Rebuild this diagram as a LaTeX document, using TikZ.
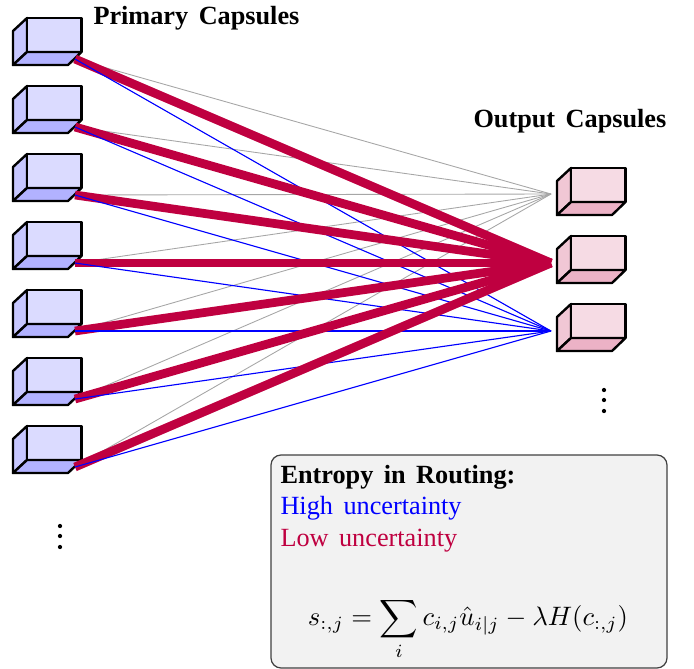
\documentclass[tikz,border=0pt]{standalone}
\usepackage{fontspec}
\usepackage{amsmath}
\setmainfont[WordSpace=1.6]{Liberation Serif}
\definecolor{lowred}{HTML}{BF0040}
\tikzset{
  face/.style={draw=black,line width=0.95pt,line join=round},
  title/.style={font=\fontsize{10.5}{12}\selectfont\bfseries,inner sep=0pt,anchor=base west},
  body/.style={font=\fontsize{10.5}{12}\selectfont,inner sep=0pt,anchor=base west},
  high/.style={blue,line width=0.45pt},
  none/.style={black!35,line width=0.35pt},
  low/.style={lowred,line width=3.5pt},
  dotmark/.style={circle,fill=black,inner sep=0pt,minimum size=1.7pt}
}
\newcommand{\capsule}[5]{% x, y(top of back face), front, side, bottom
  \filldraw[face,fill=#4] (#1-14,#2+13) -- (#1,#2) -- (#1,#2+34) -- (#1-14,#2+47) -- cycle;
  \filldraw[face,fill=#3] (#1,#2) rectangle (#1+54.5,#2+34);
  \filldraw[face,fill=#5] (#1,#2+34) -- (#1+54.5,#2+34) -- (#1+41,#2+47) -- (#1-14,#2+47) -- cycle;
}
\begin{document}
\begin{tikzpicture}[x=0.4pt,y=-0.4pt]
\useasboundingbox (0,0) rectangle (694,668);
% capsules
\foreach \k in {0,...,6}{
  \pgfmathtruncatemacro{\yy}{18+68*\k}
  \capsule{27}{\yy}{blue!14}{blue!22}{blue!30}
  \pgfmathtruncatemacro{\yc}{59+68*\k}
  \coordinate (p\k) at (75,\yc);
}
\foreach \k in {0,1,2}{
  \pgfmathtruncatemacro{\yy}{168+68*\k}
  \capsule{571}{\yy}{lowred!14}{lowred!22}{lowred!30}
}
\coordinate (o0) at (551,194);
\coordinate (o1) at (551,263);
\coordinate (o2) at (551,331);
% connectors
\foreach \k in {0,...,6}{ \draw[none] (p\k) -- (o0); }
\foreach \k in {0,...,6}{
  \draw[low] (p\k) -- (o1);
  \draw[high] (p\k) -- (o2);
}
% titles
\node[title] (prim) at (93,24) {Primary Capsules};
\node[title] (outp) at (473,127) {Output Capsules};
% dots
\node[dotmark] (da1) at (60,526) {};
\node[dotmark] (da2) at (60,536) {};
\node[dotmark] (da3) at (60,547) {};
\node[dotmark] (db1) at (604,390) {};
\node[dotmark] (db2) at (604,400) {};
\node[dotmark] (db3) at (604,411) {};
% legend
\draw[rounded corners=4pt,draw=black!75,line width=0.5pt,fill=black!5] (271,455) rectangle (667,668);
\node[title] (leg) at (280,483) {Entropy in Routing:};
\node[body,text=blue] (h) at (280,514) {High uncertainty};
\node[body,text=lowred] (l) at (280,546) {Low uncertainty};
\node[inner sep=0pt] (eq) at (468,629) {\scalebox{1.067}{$\displaystyle s_{:,j}=\sum_i c_{i,j}\hat{u}_{i|j}-\lambda H(c_{:,j})$}};
\end{tikzpicture}
\end{document}
